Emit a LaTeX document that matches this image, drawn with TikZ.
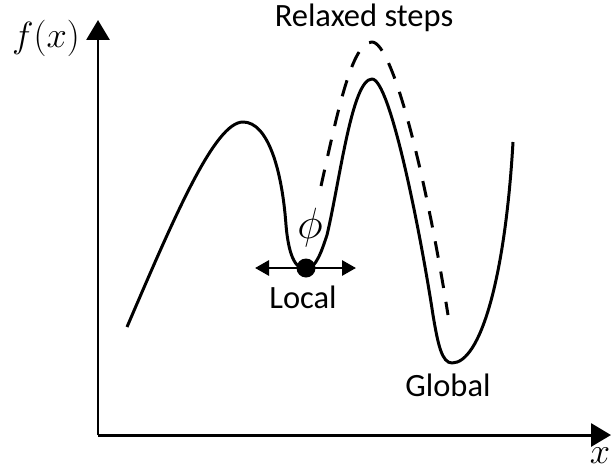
\documentclass[tikz,border=0pt]{standalone}
\usepackage{fontspec}
\setmainfont{Carlito}
\usetikzlibrary{arrows.meta}
\tikzset{
    axisline/.style={line width=1.7pt, -{Triangle[length=0.4cm, width=0.46cm]}},
    curveline/.style={line width=1.7pt, line join=round},
    steplabel/.style={font=\fontsize{18.5}{22}\selectfont}
}
\begin{document}
\begin{tikzpicture}[x=0.02cm, y=-0.02cm]
    \useasboundingbox (0,0) rectangle (611,470);

    % Axes
    \coordinate (origin) at (98,435);
    \coordinate (ytip) at (98,20);
    \coordinate (xtip) at (611,435);
    \draw[axisline] (origin) -- (ytip);
    \draw[axisline] (origin) -- (xtip);
    \node[font=\fontsize{20}{24}\selectfont] (fx) at (46,38) {$f(x)$};
    \node[font=\fontsize{20}{24}\selectfont] (xlab) at (600,456) {$x$};

    % Cost curve
    \draw[curveline] (127,327) .. controls (175,215) and (215,122) .. (243,122)
        .. controls (268,122) and (282,170) .. (286,225)
        .. controls (289,260) and (297,269) .. (306,269)
        .. controls (316,269) and (322,250) .. (327,235)
        .. controls (340,180) and (352,79) .. (372,79)
        .. controls (390,79) and (420,230) .. (433,315)
        .. controls (438,345) and (442,363) .. (452,363)
        .. controls (480,363) and (505,280) .. (513,142);

    % Relaxed steps
    \draw[curveline, dash pattern=on 9.5pt off 8pt] (321,186)
        .. controls (338,110) and (352,42) .. (372,42)
        .. controls (392,42) and (425,170) .. (448,315);
    \node[steplabel] (relaxed) at (364,18) {Relaxed steps};

    % Local minimum
    \fill (306,268) circle (9.5) coordinate (localmin);
    \coordinate (stepleft) at (255,268);
    \coordinate (stepright) at (356,268);
    \draw[line width=1.6pt, {Triangle[length=0.28cm, width=0.3cm]}-{Triangle[length=0.28cm, width=0.3cm]}] (stepleft) -- (stepright);
    \node[font=\fontsize{25}{30}\selectfont] (phi) at (310,228) {$\phi$};
    \node[steplabel] (local) at (303,297) {Local};

    % Global minimum
    \node[steplabel] (global) at (448,385) {Global};
\end{tikzpicture}
\end{document}
